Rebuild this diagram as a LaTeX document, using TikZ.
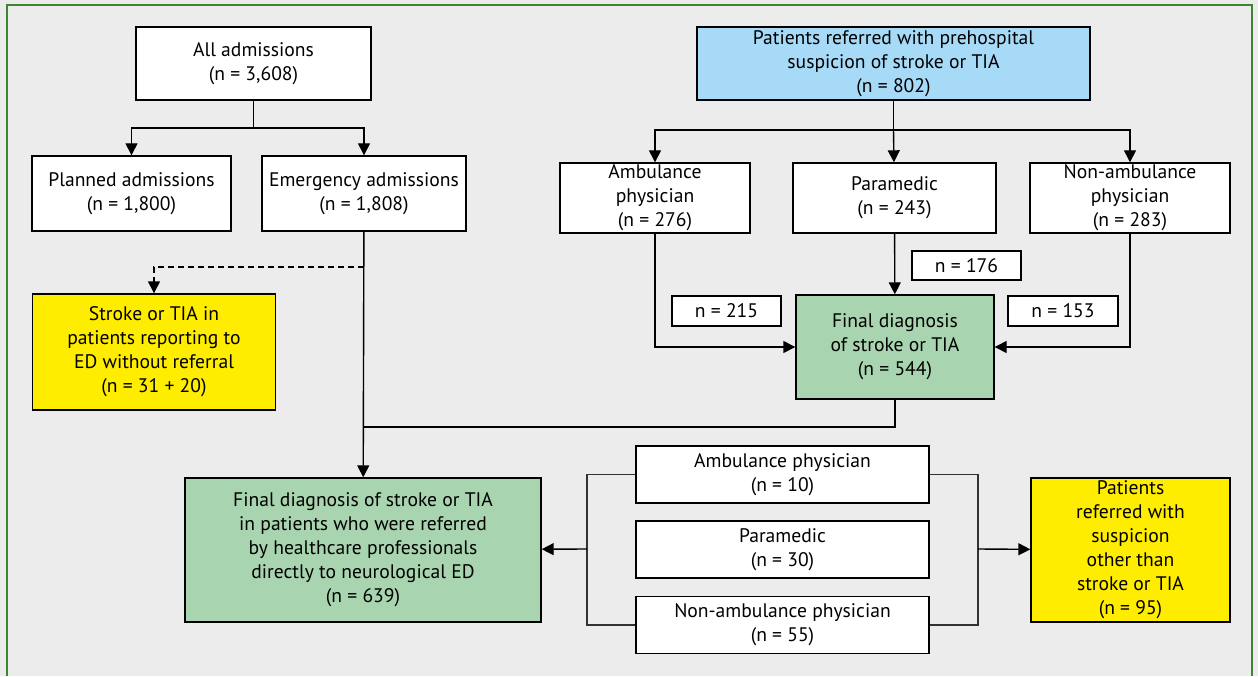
\documentclass[tikz,border=0pt]{standalone}
\usepackage{fontspec}
\setmainfont{PT Sans}
\usetikzlibrary{arrows.meta}
\definecolor{bggray}{RGB}{236,236,236}
\definecolor{framegreen}{RGB}{62,132,52}
\definecolor{refblue}{RGB}{166,218,246}
\definecolor{diaggreen}{RGB}{168,212,175}
\definecolor{refyellow}{RGB}{255,237,0}
\definecolor{bracketgray}{RGB}{50,50,50}
\tikzset{
	box/.style={draw=black,line width=0.7pt,fill=white,align=center,inner sep=0pt,font=\fontsize{9.8}{12}\selectfont},
	arr/.style={-{Triangle[length=6pt,width=6pt]}},
}

\begin{document}
\begin{tikzpicture}[x=0.5pt,y=-0.5pt,line width=0.7pt]
	\fill[bggray] (0,0) rectangle (1258,676);
	\draw[framegreen,line width=0.75pt] (7,676) -- (7,5) -- (1252,5) -- (1252,676);
	\useasboundingbox (0,0) rectangle (1258,676);
	%
	\node[box,minimum width=117.5pt,minimum height=36.5pt] (1) at (253.5,63.5) {All admissions\\(n = 3,608)};
	\node[box,minimum width=99.5pt,minimum height=37.5pt] (2) at (131.5,193.5) {Planned admissions\\(n = 1,800)};
	\node[box,minimum width=102pt,minimum height=37.5pt] (3) at (364,193.5) {Emergency admissions\\(n = 1,808)};
	\node[box,fill=refyellow,minimum width=121.5pt,minimum height=58pt] (4) at (154,352) {Stroke or TIA in\\patients reporting to\\ED without referral\\(n = 31 + 20)};
	\node[box,fill=refblue,minimum width=196.5pt,minimum height=36.5pt] (5) at (893.5,63.5) {Patients referred with prehospital\\suspicion of stroke or TIA\\(n = 802)};
	\node[box,minimum width=95pt,minimum height=35pt] (6) at (655,198) {Ambulance\\physician\\(n = 276)};
	\node[box,minimum width=101.5pt,minimum height=35pt] (7) at (894.5,198) {Paramedic\\(n = 243)};
	\node[box,minimum width=100pt,minimum height=35pt] (8) at (1130,198) {Non-ambulance\\physician\\(n = 283)};
	\node[box,minimum width=54.5pt,minimum height=14.5pt] (9) at (966.5,265.5) {n = 176};
	\node[box,minimum width=54.5pt,minimum height=15pt] (10) at (726.5,311) {n = 215};
	\node[box,fill=diaggreen,minimum width=99pt,minimum height=52pt] (11) at (895,347) {Final diagnosis\\of stroke or TIA\\(n = 544)};
	\node[box,minimum width=55pt,minimum height=15pt] (12) at (1063,311) {n = 153};
	\node[box,fill=diaggreen,minimum width=178pt,minimum height=72pt] (13) at (363,550) {Final diagnosis of stroke or TIA\\in patients who were referred\\by healthcare professionals\\directly to neurological ED\\(n = 639)};
	\node[box,minimum width=146.5pt,minimum height=28.5pt] (14) at (782.5,474.5) {Ambulance physician\\(n = 10)};
	\node[box,minimum width=146.5pt,minimum height=28.5pt] (15) at (782.5,549.5) {Paramedic\\(n = 30)};
	\node[box,minimum width=146.5pt,minimum height=28.5pt] (16) at (782.5,625) {Non-ambulance physician\\(n = 55)};
	\node[box,fill=refyellow,minimum width=99.5pt,minimum height=72pt] (17) at (1130.5,550) {Patients\\referred with\\suspicion\\other than\\stroke or TIA\\(n = 95)};
	%
	\coordinate (a) at (253.5,128);
	\coordinate (b) at (893.5,130);
	\coordinate (c) at (364,267);
	\coordinate (d) at (364,427);
	\coordinate (e) at (587,549);
	\coordinate (f) at (978,549);
	%
	\draw (1) -- (a);
	\draw [arr] (a) -| (2);
	\draw [arr] (a) -| (3);
	\draw (5) -- (b);
	\draw [arr] (b) -| (6);
	\draw [arr] (b) -- (7);
	\draw [arr] (b) -| (8);
	\draw [arr] (3) -- (13);
	\draw [arr,dash pattern=on 3pt off 2pt] (c) -| (4);
	\draw (11) |- (d);
	\draw [arr] (6) |- (11);
	\draw [arr] (7) -- (11);
	\draw [arr] (8) |- (11);
	\draw [bracketgray,line width=0.8pt] (14.west) -| (e) |- (16.west);
	\draw [bracketgray,line width=0.8pt] (14.east) -| (f) |- (16.east);
	\draw [arr] (e) -- (13);
	\draw [arr] (f) -- (17);
\end{tikzpicture}
\end{document}
